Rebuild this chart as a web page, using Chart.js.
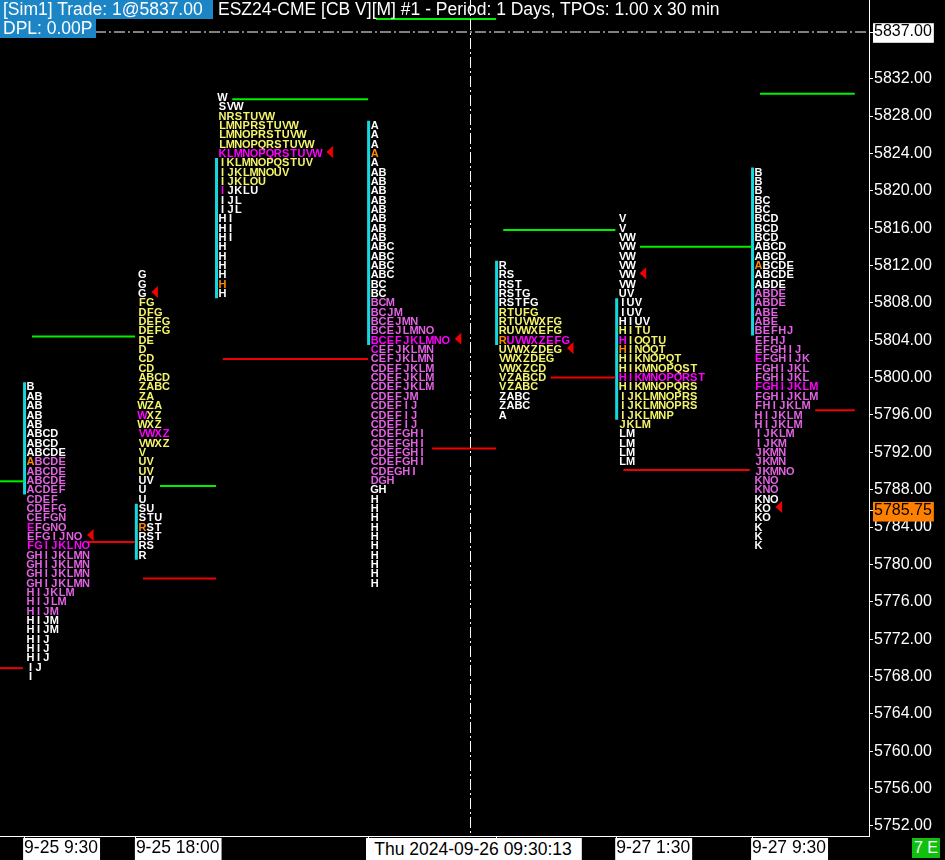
<!DOCTYPE html>
<html>
<head>
<meta charset="utf-8">
<title>ESZ24-CME TPO</title>
<script src="https://cdn.jsdelivr.net/npm/chart.js@4/dist/chart.umd.min.js"></script>
<style>
  html, body { margin: 0; padding: 0; background: #000; overflow: hidden; }
  #wrap { position: relative; width: 945px; height: 860px; }
  canvas { display: block; }
  .lab { position: absolute; font-family: "Liberation Sans", Arial, sans-serif; font-size: 17.5px;
         line-height: 19px; color: #fff; white-space: nowrap; box-sizing: border-box; }
</style>
</head>
<body>
<div id="wrap">
  <canvas id="c" width="945" height="860"></canvas>
  <div class="lab" style="left:0;top:0;width:213px;height:19px;background:#1b85c6;padding-left:3px;">[Sim1] Trade: 1@5837.00</div>
  <div class="lab" style="left:218px;top:0;height:19px;">ESZ24-CME [CB V][M] #1 - Period: 1 Days, TPOs: 1.00 x 30 min</div>
  <div class="lab" style="left:0;top:19px;width:96px;height:19px;background:#1b85c6;padding-left:3px;">DPL: 0.00P</div>
  <div class="lab" style="left:366px;top:838px;width:214px;height:22px;line-height:22px;background:#fff;color:#000;text-align:center;">Thu 2024-09-26 09:30:13</div>
  <div class="lab" style="left:912px;top:838px;width:28px;height:20px;line-height:20px;background:#10c010;color:#fff;text-align:center;font-size:16px;">7 E</div>
</div>
<script>
// Sessions (30-minute TPO periods, 1.00 tick rows)
const sessionLabels = ['9-25 9:30', '9-25 18:00', '9-26 1:30', '9-26 9:30', '9-26 18:00', '9-27 1:30', '9-27 9:30'];
const sessionKind = ['RTH', 'ETH', 'ETH', 'RTH', 'ETH', 'ETH', 'RTH'];
const sessionColumns = [3.05, 17.2, 27.35, 46.6, 62.8, 78.0, 95.2];
const labelledSessions = [0, 1, 3, 4, 5, 6];

// Highest price of each profile; rows go down one tick at a time
const rowTop = [5799, 5811, 5830, 5827, 5812, 5817, 5822];

const tpo1 = ['B', 'AB', 'AB', 'AB', 'AB', 'ABCD', 'ABCD', 'ABCDE', 'ABCDE', 'ABCDE', 'ABCDE', 'ACDEF',
  'CDEF', 'CDEFG', 'CEFGN', 'EFGNO', 'EFGIJNO', 'FGIJKLNO', 'GHIJKLMN', 'GHIJKLMN', 'GHIJKLMN', 'GHIJKLMN',
  'HIJKLM', 'HIJLM', 'HIJM', 'HIJM', 'HIJM', 'HIJ', 'HIJ', 'HIJ', 'IJ', 'I'];
const tpo2 = ['G', 'G', 'G', 'FG', 'DFG', 'DEFG', 'DEFG', 'DE', 'D', 'CD', 'CD', 'ABCD', 'ZABC', 'ZA', 'WZA',
  'WXZ', 'WXZ', 'VWXZ', 'VWXZ', 'V', 'UV', 'UV', 'UV', 'U', 'U', 'SU', 'STU', 'RST', 'RST', 'RS', 'R'];
const tpo3 = ['W', 'SVW', 'NRSTUVW', 'LMNPRSTUVW', 'LMNOPRSTUVW', 'LMNOPQRSTUVW', 'KLMNOPQRSTUVW',
  'IKLMNOPQSTUV', 'IJKLMNOUV', 'IJKLOU', 'IJKLU', 'IJL', 'IJL', 'HI', 'HI', 'HI', 'H', 'H', 'H', 'H', 'H', 'H'];
const tpo4 = ['A', 'A', 'A', 'A', 'A', 'AB', 'AB', 'AB', 'AB', 'AB', 'AB', 'AB', 'AB', 'ABC', 'ABC', 'ABC', 'ABC',
  'BC', 'BC', 'BCM', 'BCJM', 'BCEJMN', 'BCEJLMNO', 'BCEFJKLMNO', 'CEFJKLMN', 'CEFJKLMN', 'CDEFJKLM',
  'CDEFJKLM', 'CDEFJKLM', 'CDEFJM', 'CDEFIJ', 'CDEFIJ', 'CDEFIJ', 'CDEFGHI', 'CDEFGHI', 'CDEFGHI', 'CDEFGHI',
  'CDEGHI', 'DGH', 'GH', 'H', 'H', 'H', 'H', 'H', 'H', 'H', 'H', 'H', 'H'];
const tpo5 = ['R', 'RS', 'RST', 'RSTG', 'RSTFG', 'RTUFG', 'RTUVWXFG', 'RUVWXEFG', 'RUVWXZEFG', 'UVWXZDEG',
  'VWXZDEG', 'VWXZCD', 'VZABCD', 'VZABC', 'ZABC', 'ZABC', 'A'];
const tpo6 = ['V', 'V', 'VW', 'VW', 'VW', 'VW', 'VW', 'VW', 'UV', 'IUV', 'IUV', 'HIUV', 'HITU', 'HIOQTU', 'HINOQT',
  'HIKNOPQT', 'HIKMNOPQST', 'HIKMNOPQRST', 'HIKMNOPQRS', 'IJKLMNOPRS', 'IJKLMNOPRS', 'IJKLMNP', 'JKLM',
  'LM', 'LM', 'LM', 'LM'];
const tpo7 = ['B', 'B', 'B', 'BC', 'BC', 'BCD', 'BCD', 'BCD', 'ABCD', 'ABCD', 'ABCDE', 'ABCDE', 'ABDE', 'ABDE',
  'ABDE', 'ABE', 'ABE', 'BEFHJ', 'EFHJ', 'EFGHIJ', 'EFGHIJK', 'FGHIJKL', 'FGHIJKL', 'FGHIJKLM', 'FGHIJKLM',
  'FHIJKLM', 'HIJKLM', 'HIJKLM', 'IJKLM', 'IJKM', 'JKMN', 'JKMN', 'JKMNO', 'KNO', 'KNO', 'KNO', 'KO', 'KO',
  'K', 'K', 'K'];
const profiles = [tpo1, tpo2, tpo3, tpo4, tpo5, tpo6, tpo7];

// Value area, point of control, initial balance, open and close of each profile
const vaHigh = [5791, 5808, 5828, 5808, 5807, 5805, 5809];
const vaLow = [5775, 5790, 5821, 5789, 5799, 5795, 5788];
const pocPrice = [5782, 5794, 5824, 5804, 5804, 5800, 5799];
const ibHigh = [5799, 5786, 5823, 5827, 5812, 5808, 5822];
const ibLow = [5788, 5781, 5809, 5804, 5804, 5796, 5805];
const openPrice = [5791, 5784, 5810, 5824, 5804, 5803, 5812];
const closePrice = [5783, 5809, 5824, 5804, 5803, 5811, 5786];

// Extended reference levels (price, start column, end column)
const greenLevels = [5788.9, 5804.4, 5788.4, 5829.8, 5838.4, 5815.8, 5814.0, 5830.4];
const greenFrom = [0, 4.05, 20.25, 29.4, 47.6, 63.7, 81.0, 96.2];
const greenTo = [3.1, 17.1, 27.35, 46.6, 62.8, 77.9, 95.2, 108.2];
const redLevels = [5768.9, 5782.4, 5778.5, 5802.0, 5792.4, 5800.0, 5790.1, 5796.5];
const redFrom = [0, 11.1, 18.1, 28.2, 54.7, 69.7, 78.9, 103.2];
const redTo = [2.9, 17.1, 27.35, 46.6, 62.8, 77.9, 94.9, 108.2];

// Price axis
const yTickValues = [5752, 5756, 5760, 5764, 5768, 5772, 5776, 5780, 5784, 5788, 5792, 5796, 5800, 5804,
  5808, 5812, 5816, 5820, 5824, 5828, 5832];
const lastTrade = 5837.00;
const lastPrice = 5785.75;
const crosshairColumn = 59.5;

const COLORS = {
  white: '#ffffff', pink: '#e462e4', yellow: '#f4f46c', magenta: '#ff00ff', orange: '#ff8a00',
  cyan: '#16d6de', green: '#00f000', red: '#f00000'
};
const FONT = '"Liberation Sans", Arial, sans-serif';

const datasets = [];
greenLevels.forEach((p, i) => datasets.push({
  data: [{ x: greenFrom[i], y: p }, { x: greenTo[i], y: p }], borderColor: COLORS.green, borderWidth: 2
}));
redLevels.forEach((p, i) => datasets.push({
  data: [{ x: redFrom[i], y: p }, { x: redTo[i], y: p }], borderColor: COLORS.red, borderWidth: 2
}));
// initial balance bars
ibHigh.forEach((h, i) => datasets.push({
  data: [{ x: sessionColumns[i] + 0.06, y: h + 0.5 }, { x: sessionColumns[i] + 0.06, y: ibLow[i] - 0.5 }],
  borderColor: COLORS.cyan, borderWidth: 3, borderCapStyle: 'butt'
}));
// last trade line
datasets.push({
  data: [{ x: 0, y: lastTrade }, { x: 110, y: lastTrade }],
  borderColor: '#ffffff', borderWidth: 1, borderDash: [11, 3, 2, 3]
});

const tpoPlugin = {
  id: 'tpoLetters',
  afterDatasetsDraw(chart) {
    const { ctx, scales: { x, y } } = chart;
    ctx.save();
    // crosshair
    const cx = Math.round(x.getPixelForValue(crosshairColumn)) + 0.5;
    ctx.strokeStyle = '#ffffff';
    ctx.lineWidth = 1;
    ctx.setLineDash([11, 3, 2, 3]);
    ctx.beginPath();
    ctx.moveTo(cx, chart.chartArea.top);
    ctx.lineTo(cx, chart.chartArea.bottom);
    ctx.stroke();
    ctx.setLineDash([]);

    ctx.font = 'bold 11px ' + FONT;
    ctx.textAlign = 'center';
    ctx.textBaseline = 'middle';
    profiles.forEach((rows, p) => {
      const bottom = rowTop[p] - rows.length + 1;
      const mid = Math.round((rowTop[p] + bottom) / 2);
      const vaColor = sessionKind[p] === 'RTH' ? COLORS.pink : COLORS.yellow;
      rows.forEach((letters, r) => {
        const price = rowTop[p] - r;
        const py = y.getPixelForValue(price) + 0.5;
        let color = COLORS.white;
        if (price === pocPrice[p]) color = COLORS.magenta;
        else if (price <= vaHigh[p] && price >= vaLow[p]) color = vaColor;
        for (let i = 0; i < letters.length; i++) {
          let c = color;
          if (i === 0 && price === openPrice[p]) c = COLORS.orange;
          else if (i === 0 && price === mid) c = COLORS.magenta;
          ctx.fillStyle = c;
          ctx.fillText(letters[i], x.getPixelForValue(sessionColumns[p] + 0.82 + i), py);
        }
        if (price === closePrice[p]) {
          const tip = x.getPixelForValue(sessionColumns[p] + 0.32 + letters.length + 0.65);
          const ty = py - 2;
          ctx.fillStyle = COLORS.red;
          ctx.beginPath();
          ctx.moveTo(tip, ty);
          ctx.lineTo(tip + 6.5, ty - 6);
          ctx.lineTo(tip + 6.5, ty + 6);
          ctx.closePath();
          ctx.fill();
        }
      });
    });
    ctx.restore();
  }
};

const special = v => v === lastTrade || v === lastPrice;

new Chart(document.getElementById('c'), {
  type: 'line',
  data: { datasets },
  options: {
    responsive: false,
    animation: false,
    devicePixelRatio: 1,
    layout: { padding: 0 },
    plugins: { legend: { display: false }, tooltip: { enabled: false } },
    elements: { point: { radius: 0 }, line: { tension: 0 } },
    scales: {
      x: {
        type: 'linear', position: 'bottom', min: 0, max: 110,
        afterFit(s) { s.height = 24; s.paddingLeft = 0; s.paddingRight = 0; },
        afterBuildTicks(s) { s.ticks = labelledSessions.map(i => ({ value: sessionColumns[i] })); },
        grid: { drawOnChartArea: false, tickLength: 3, color: '#ffffff' },
        border: { color: '#ffffff' },
        ticks: {
          autoSkip: false, maxRotation: 0, minRotation: 0, align: 'start', padding: 0,
          color: '#000000', font: { family: FONT, size: 17.5, lineHeight: 1.1 },
          callback: (v, i) => sessionLabels[labelledSessions[i]],
          showLabelBackdrop: true, backdropColor: '#ffffff',
          backdropPadding: { top: 1, bottom: 2, left: 1, right: 2 }
        }
      },
      y: {
        type: 'linear', position: 'right', min: 5750.929, max: 5840.426,
        afterFit(s) { s.width = 76; s.paddingTop = 0; s.paddingBottom = 0; },
        afterBuildTicks(s) { s.ticks = yTickValues.concat([lastTrade, lastPrice]).map(v => ({ value: v })); },
        grid: { drawOnChartArea: false, tickLength: 4, color: '#ffffff' },
        border: { color: '#ffffff' },
        ticks: {
          autoSkip: false, padding: 1,
          font: { family: FONT, size: 16, lineHeight: 1.1 },
          color: c => special(c.tick.value) ? '#000000' : '#ffffff',
          callback: v => Number(v).toFixed(2),
          showLabelBackdrop: c => special(c.tick.value),
          backdropColor: c => c.tick.value === lastPrice ? '#ff8000' : '#ffffff',
          backdropPadding: { top: 0, bottom: 2, left: 1, right: 2 }
        }
      }
    }
  },
  plugins: [tpoPlugin]
});
</script>
</body>
</html>
